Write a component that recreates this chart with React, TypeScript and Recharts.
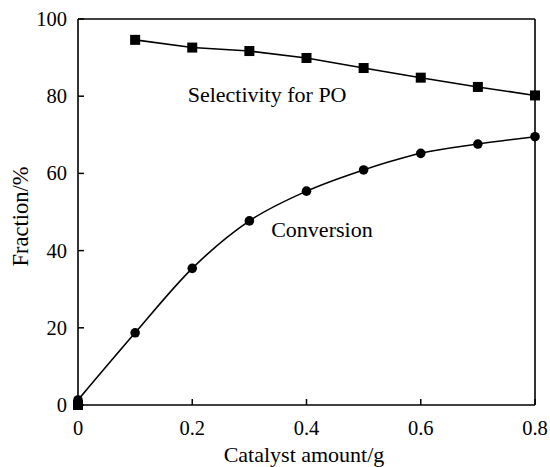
import React from 'react';
import { LineChart, Line, XAxis, YAxis, ReferenceLine, ReferenceDot } from 'recharts';

// Catalyst amount (g)
const amounts = [0, 0.1, 0.2, 0.3, 0.4, 0.5, 0.6, 0.7, 0.8];
// Conversion (%)
const conversion = [1.3, 18.7, 35.4, 47.7, 55.4, 60.9, 65.2, 67.6, 69.5];
// Selectivity for PO (%), measured from 0.1 g onwards
const selAmounts = [0.1, 0.2, 0.3, 0.4, 0.5, 0.6, 0.7, 0.8];
const selectivity = [94.6, 92.6, 91.7, 89.9, 87.3, 84.8, 82.4, 80.2];
// Blank run (no catalyst) selectivity point
const blankSelectivity = 0;

const xTicks = [0, 0.2, 0.4, 0.6, 0.8];
const yTicks = [0, 20, 40, 60, 80, 100];

const convData = amounts.map((x, i) => ({ x, v: conversion[i] }));
const selData = selAmounts.map((x, i) => ({ x, v: selectivity[i] }));
const blankData = [{ x: 0, v: blankSelectivity }];

const FONT = '"Liberation Serif", "Times New Roman", serif';

const Square = (props: any) => {
  const { cx, cy } = props;
  if (cx == null || cy == null) return null;
  return <rect x={cx - 5} y={cy - 5} width={10} height={10} fill="#000" />;
};

const Circle = (props: any) => {
  const { cx, cy } = props;
  if (cx == null || cy == null) return null;
  return <circle cx={cx} cy={cy} r={4.8} fill="#000" />;
};

const fmtX = (v: number) => (v === 0 ? '0' : String(v));

const XTick = (props: any) => {
  const { x, y, payload } = props;
  return (
    <g>
      <line x1={x} x2={x} y1={y} y2={y - 6} stroke="#000" strokeWidth={1.5} />
      <text x={x} y={y + 30} textAnchor="middle" fontFamily={FONT} fontSize={20.5} fill="#000">
        {fmtX(payload.value)}
      </text>
    </g>
  );
};

const YTick = (props: any) => {
  const { x, y, payload } = props;
  return (
    <g>
      <line x1={x} x2={x + 6} y1={y} y2={y} stroke="#000" strokeWidth={1.5} />
      <text x={x - 11} y={y + 7} textAnchor="end" fontFamily={FONT} fontSize={20.5} fill="#000">
        {payload.value}
      </text>
    </g>
  );
};

const TextMark = (text: string) => (props: any) => {
  const { cx, cy } = props;
  return (
    <text x={cx} y={cy} textAnchor="middle" fontFamily={FONT} fontSize={22} fill="#000">
      {text}
    </text>
  );
};

export default function App() {
  return (
    <div style={{ position: 'absolute', left: 0, top: 0, background: '#fff' }}>
      <LineChart
        width={550}
        height={467}
        margin={{ top: 19, right: 15, bottom: 0, left: 18 }}
      >
        <XAxis
          type="number"
          dataKey="x"
          domain={[0, 0.8]}
          ticks={xTicks}
          tickSize={0}
          tickMargin={0}
          tick={<XTick />}
          axisLine={{ stroke: '#000', strokeWidth: 1.6 }}
          height={62}
          allowDuplicatedCategory={false}
        />
        <YAxis
          type="number"
          domain={[0, 100]}
          ticks={yTicks}
          tickSize={0}
          tickMargin={0}
          tick={<YTick />}
          axisLine={{ stroke: '#000', strokeWidth: 1.6 }}
          width={60}
        />
        <ReferenceLine y={100} stroke="#000" strokeWidth={1.6} />
        <ReferenceLine x={0.8} stroke="#000" strokeWidth={1.6} />
        <Line
          data={selData}
          dataKey="v"
          type="linear"
          stroke="#000"
          strokeWidth={1.6}
          dot={<Square />}
          isAnimationActive={false}
        />
        <Line
          data={blankData}
          dataKey="v"
          type="linear"
          stroke="#000"
          strokeWidth={1.6}
          dot={<Square />}
          isAnimationActive={false}
        />
        <Line
          data={convData}
          dataKey="v"
          type="monotone"
          stroke="#000"
          strokeWidth={1.6}
          dot={<Circle />}
          isAnimationActive={false}
        />
        <ReferenceDot x={0.331} y={78.4} r={0} shape={TextMark('Selectivity for PO')} />
        <ReferenceDot x={0.427} y={43.5} r={0} shape={TextMark('Conversion')} />
      </LineChart>
      <svg
        width={550}
        height={467}
        style={{ position: 'absolute', left: 0, top: 0, pointerEvents: 'none' }}
      >
        <text x={304} y={462} textAnchor="middle" fontFamily={FONT} fontSize={22} fill="#000">
          Catalyst amount/g
        </text>
        <text
          x={28}
          y={216.5}
          textAnchor="middle"
          fontFamily={FONT}
          fontSize={22.5}
          fill="#000"
          transform="rotate(-90 28 216.5)"
        >
          Fraction/%
        </text>
      </svg>
    </div>
  );
}
